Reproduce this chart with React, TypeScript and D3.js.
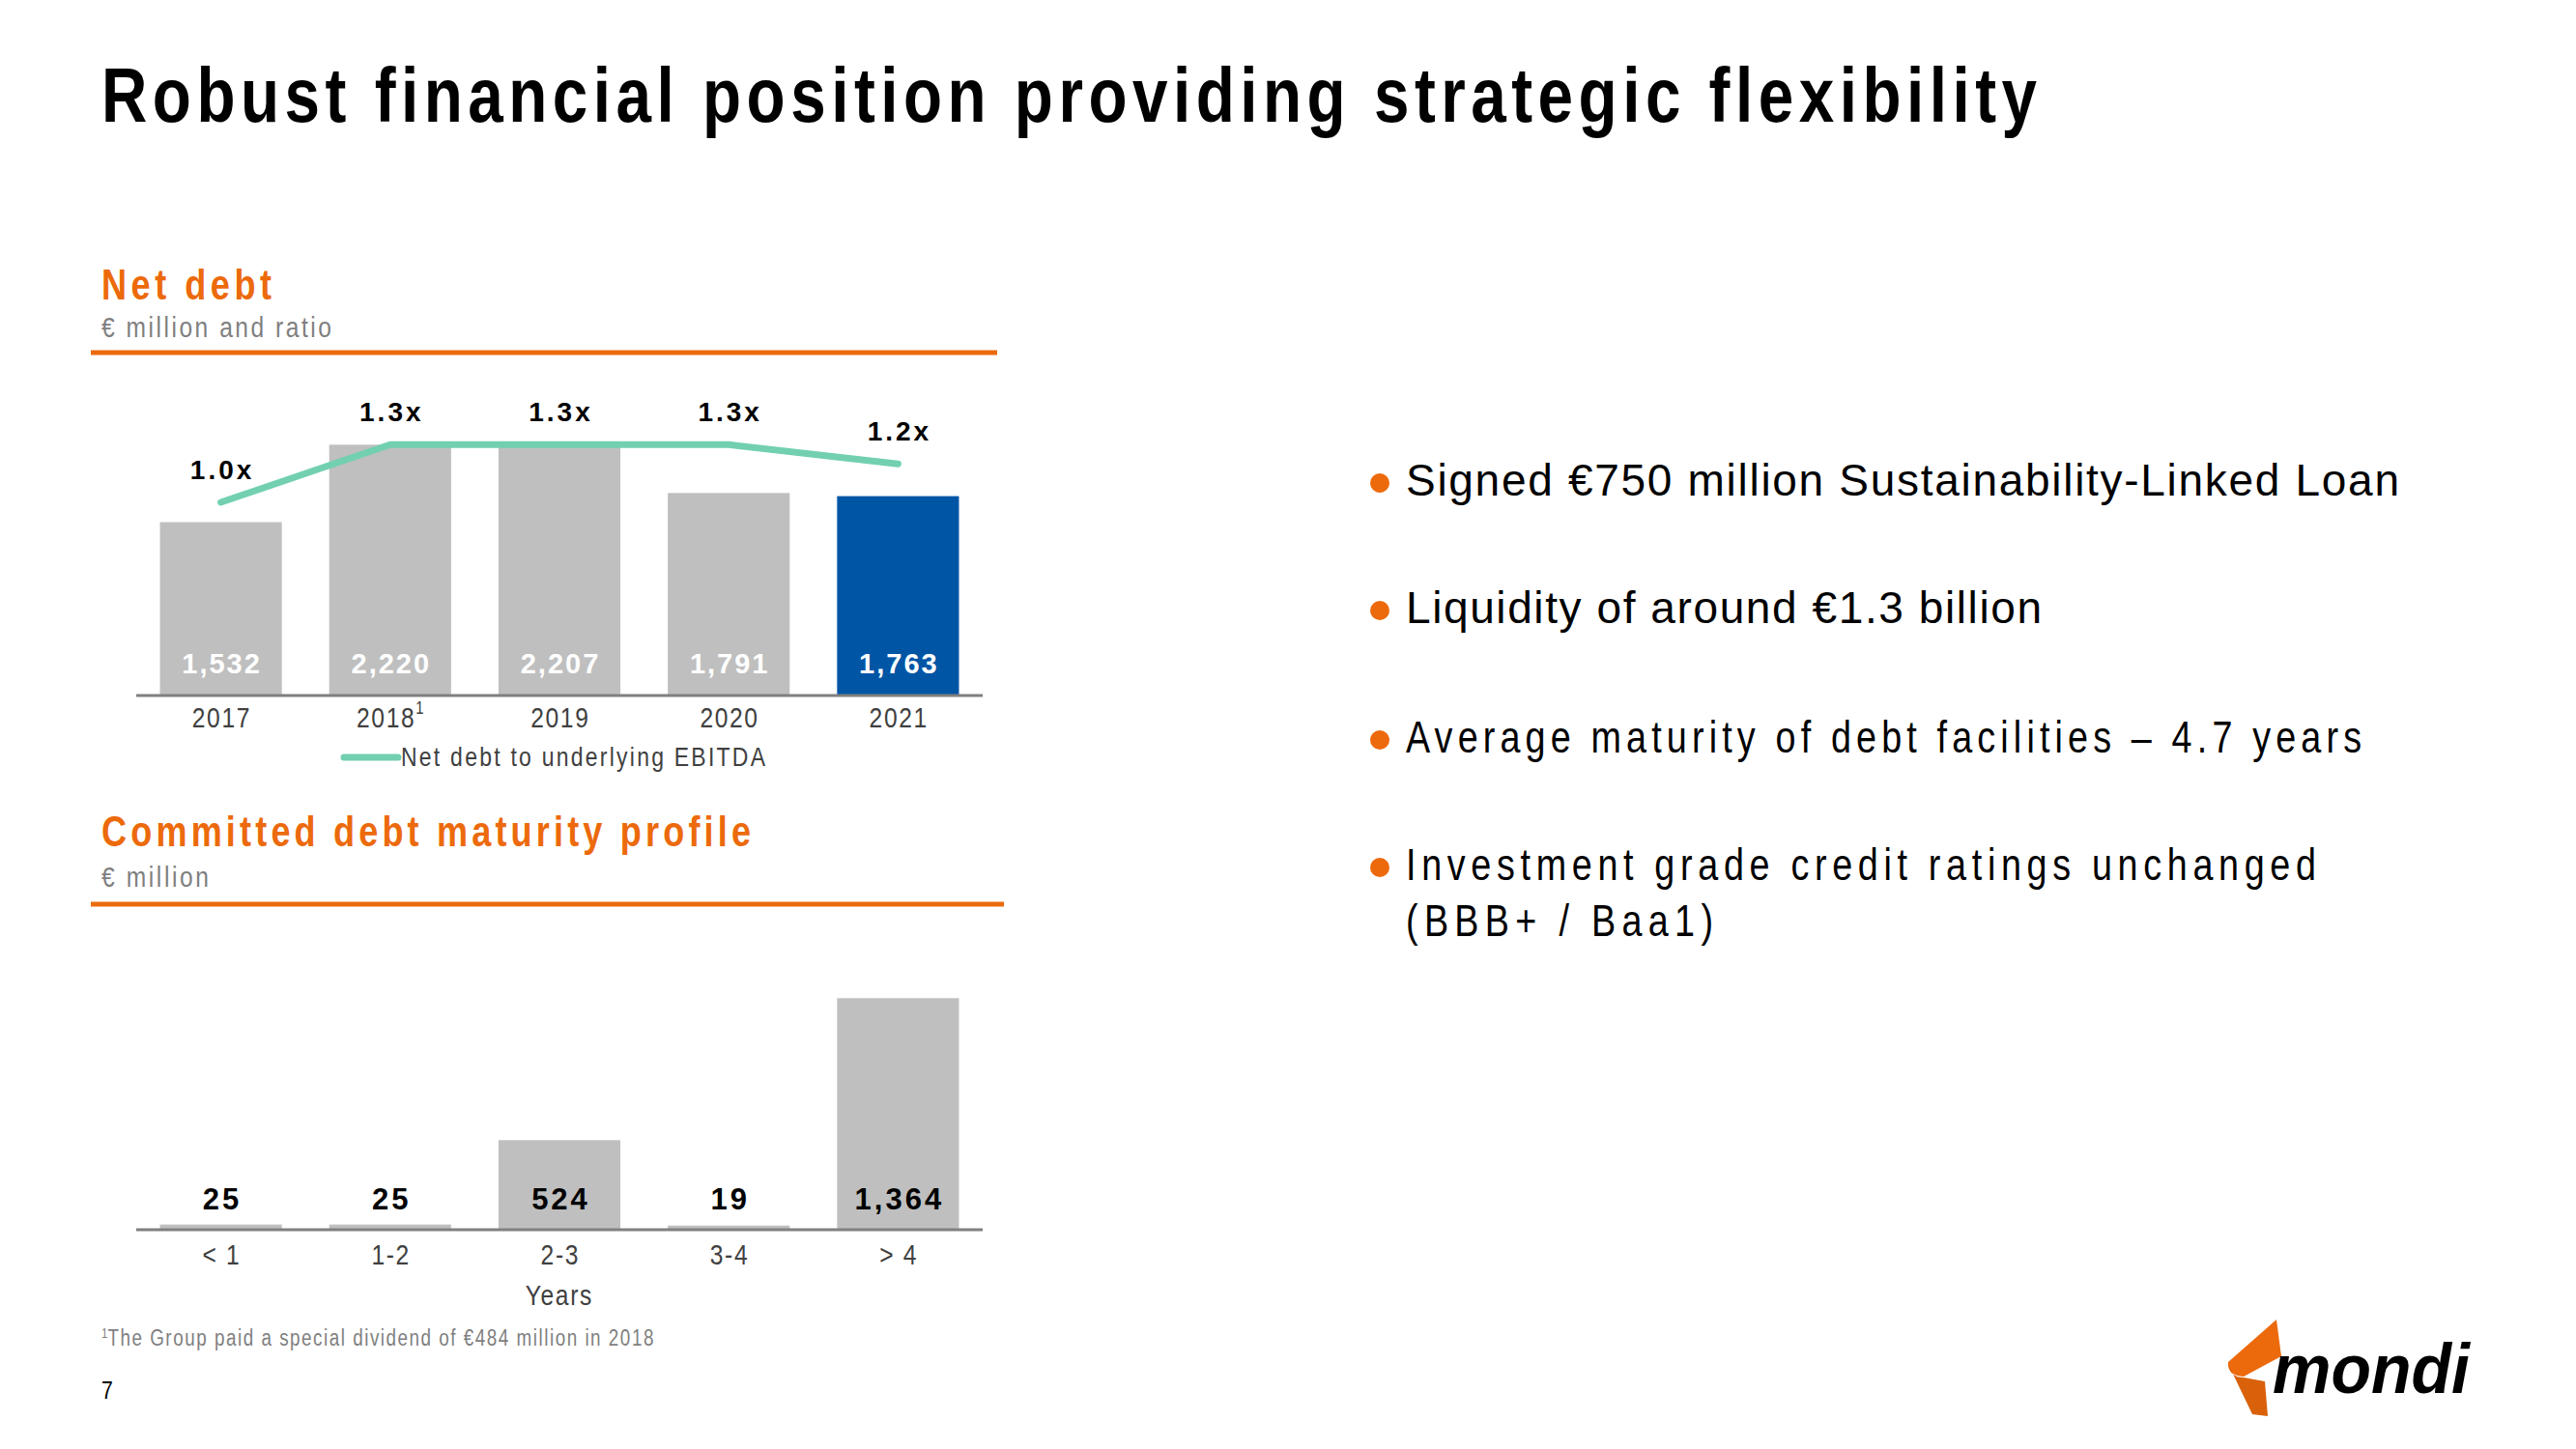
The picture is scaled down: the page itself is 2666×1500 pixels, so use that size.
import React from 'react';
import * as d3 from 'd3';

const years = ['2017', '2018', '2019', '2020', '2021'];
const yearSup = ['', '1', '', '', ''];
const netDebt = [1532, 2220, 2207, 1791, 1763];
const ratio = [1.0, 1.3, 1.3, 1.3, 1.2];
const maturityCats = ['< 1', '1-2', '2-3', '3-4', '> 4'];
const maturity = [25, 25, 524, 19, 1364];
const bullets = [
  { text: 'Signed €750 million Sustainability-Linked Loan', len: 1028, dot: true, narrow: false },
  { text: 'Liquidity of around €1.3 billion', len: 658, dot: true, narrow: false },
  { text: 'Average maturity of debt facilities – 4.7 years', len: 989, dot: true, narrow: true },
  { text: 'Investment grade credit ratings unchanged', len: 942, dot: true, narrow: true },
  { text: '(BBB+ / Baa1)', len: 318, dot: false, narrow: true },
];
const bulletY = [513, 645, 779, 911, 969];

const FONT = "'Liberation Sans', Arial, sans-serif";
const ORANGE = '#ec6a0c';
const GREY_BAR = '#bfbfbf';
const BLUE = '#0055a5';
const TEAL = '#72d0b1';
const TICK = '#404040';
const SUB = '#7f7f7f';
const SX = 0.82;

const fmtVal = d3.format(',');
const fmtRatio = (v: number) => d3.format('.1f')(v) + 'x';

function NT(props: any) {
  const { x, y, len, anchor = 'start', ls, sx = SX, children, ...rest } = props;
  const off = anchor === 'middle' && ls ? (ls * sx) / 2 : 0;
  return (
    <g transform={`translate(${x + off},${y}) scale(${sx},1)`}>
      <text
        x={0}
        y={0}
        textAnchor={anchor}
        textLength={len ? len / sx : undefined}
        lengthAdjust={len ? 'spacing' : undefined}
        letterSpacing={ls}
        {...rest}
      >
        {children}
      </text>
    </g>
  );
}

export default function App() {
  const x1 = d3.scaleBand<string>().domain(years).range([141, 1017]).paddingInner(0.28).paddingOuter(0.14);
  const y1 = d3.scaleLinear().domain([0, 2500]).range([719, 719 - 2500 * 0.1165]);
  const yR = d3.scaleLinear().domain([0, 1]).range([719, 520]);
  const x2 = d3.scaleBand<string>().domain(maturityCats).range([141, 1017]).paddingInner(0.28).paddingOuter(0.14);
  const y2 = d3.scaleLinear().domain([0, 1500]).range([1272, 1272 - 1500 * 0.175]);
  const bw = x1.bandwidth();
  const cx1 = (i: number) => (x1(years[i]) as number) + bw / 2;
  const cx2 = (i: number) => (x2(maturityCats[i]) as number) + bw / 2;
  const line = d3.line<number>()
    .x((_, i) => cx1(i))
    .y((d) => yR(d));

  return (
    <svg width={2666} height={1500} style={{ position: 'absolute', left: 0, top: 0, background: '#fff' }} fontFamily={FONT}>
      <rect width={2666} height={1500} fill="#fff" />
      {/* Title */}
      <NT x={105} y={126} fontSize={80} fontWeight="bold" fill="#000" len={2003}>
        Robust financial position providing strategic flexibility
      </NT>

      {/* Net debt header */}
      <NT x={105} y={310} fontSize={44} fontWeight="bold" fill={ORANGE} len={176}>Net debt</NT>
      <NT x={105} y={349} fontSize={30} fill={SUB} len={238}>€ million and ratio</NT>
      <line x1={94} x2={1032} y1={365} y2={365} stroke={ORANGE} strokeWidth={5} />

      {/* Net debt bars */}
      {netDebt.map((v, i) => (
        <rect key={'b' + i} x={x1(years[i])} y={y1(v)} width={bw} height={y1(0) - y1(v)} fill={i === 4 ? BLUE : GREY_BAR} />
      ))}
      {netDebt.map((v, i) => (
        <text key={'bl' + i} x={cx1(i) + 1} y={697} fontSize={29} fontWeight="bold" fill="#fff" textAnchor="middle" letterSpacing={2}>
          {fmtVal(v)}
        </text>
      ))}
      <line x1={141} x2={1017} y1={720} y2={720} stroke="#808080" strokeWidth={3} />
      {years.map((yr, i) => (
        <NT key={'t' + i} x={cx1(i)} y={753} fontSize={30} fill={TICK} anchor="middle" ls={2}>
          {yr}
          {yearSup[i] && <tspan fontSize={18} dy={-14}>{yearSup[i]}</tspan>}
        </NT>
      ))}
      <path d={line(ratio) || ''} fill="none" stroke={TEAL} strokeWidth={7} strokeLinecap="round" strokeLinejoin="round" />
      {ratio.map((r, i) => (
        <text key={'r' + i} x={cx1(i) + 1.5} y={yR(r) - 24} fontSize={28} fontWeight="bold" fill="#000" textAnchor="middle" letterSpacing={3}>
          {fmtRatio(r)}
        </text>
      ))}
      {/* legend */}
      <line x1={356} x2={412} y1={784} y2={784} stroke={TEAL} strokeWidth={7} strokeLinecap="round" />
      <NT x={415} y={793} fontSize={28} fill={TICK} len={377}>Net debt to underlying EBITDA</NT>

      {/* Committed debt maturity profile */}
      <NT x={105} y={876} fontSize={44} fontWeight="bold" fill={ORANGE} len={672}>Committed debt maturity profile</NT>
      <NT x={105} y={918} fontSize={30} fill={SUB} len={111}>€ million</NT>
      <line x1={94} x2={1039} y1={936} y2={936} stroke={ORANGE} strokeWidth={5} />

      {maturity.map((v, i) => (
        <rect key={'m' + i} x={x2(maturityCats[i])} y={y2(v)} width={bw} height={y2(0) - y2(v)} fill={GREY_BAR} />
      ))}
      {maturity.map((v, i) => (
        <text key={'ml' + i} x={cx2(i) + 1.5} y={1252} fontSize={31} fontWeight="bold" fill="#000" textAnchor="middle" letterSpacing={3}>
          {fmtVal(v)}
        </text>
      ))}
      <line x1={141} x2={1017} y1={1273} y2={1273} stroke="#808080" strokeWidth={3} />
      {maturityCats.map((c, i) => (
        <NT key={'mt' + i} x={cx2(i)} y={1309} fontSize={30} fill={TICK} anchor="middle" ls={2}>
          {c}
        </NT>
      ))}
      <NT x={578} y={1351} fontSize={30} fill={TICK} anchor="middle" ls={2}>Years</NT>

      {/* Footnote */}
      <NT x={105} y={1393} fontSize={23} fill={SUB}>
        <tspan fontSize={14} dy={-8}>1</tspan>
        <tspan dy={8} textLength={565 / SX} lengthAdjust="spacing">The Group paid a special dividend of €484 million in 2018</tspan>
      </NT>
      <NT x={105} y={1448} fontSize={26} fill="#000">7</NT>

      {/* Bullets */}
      {bullets.map((b, i) => (
        <g key={'bu' + i}>
          {b.dot && <circle cx={1428} cy={bulletY[i] - 13} r={10} fill={ORANGE} />}
          {b.narrow ? (
            <NT x={1455} y={bulletY[i]} fontSize={46} fill="#000" len={b.len}>{b.text}</NT>
          ) : (
            <text x={1455} y={bulletY[i]} fontSize={46} fill="#000" textLength={b.len} lengthAdjust="spacing">{b.text}</text>
          )}
        </g>
      ))}

      {/* Logo */}
      <path d="M2356,1366 L2361,1404 L2322,1425 Q2305,1424 2306,1410 Z" fill={ORANGE} />
      <path d="M2306,1412 Q2308,1426 2322,1426 L2344,1430 L2347,1466 L2331,1464 Z" fill="#d9610a" />
      <text x={2352} y={1442} fontSize={72} fontWeight="900" fontStyle="italic" fill="#000" textLength={204} lengthAdjust="spacingAndGlyphs">mondi</text>
    </svg>
  );
}
